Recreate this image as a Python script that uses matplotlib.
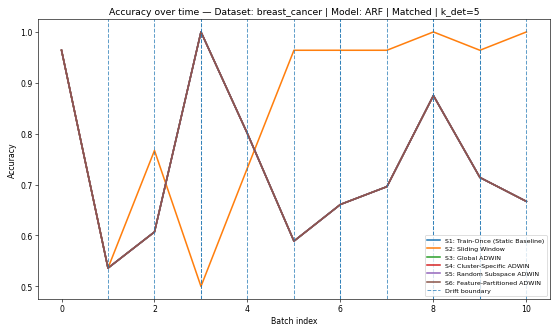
import matplotlib
matplotlib.use("Agg")
import matplotlib.pyplot as plt

batches = list(range(11))

# per-strategy accuracy for each batch
s1_static = [0.964, 0.536, 0.607, 1.0, 0.80, 0.589, 0.661, 0.696, 0.875, 0.714, 0.667]
s2_sliding = [0.964, 0.536, 0.767, 0.50, 0.733, 0.964, 0.964, 0.964, 1.0, 0.964, 1.0]
s3_global = [0.964, 0.536, 0.607, 1.0, 0.80, 0.589, 0.661, 0.696, 0.875, 0.714, 0.667]
s4_cluster = [0.964, 0.536, 0.607, 1.0, 0.80, 0.589, 0.661, 0.696, 0.875, 0.714, 0.667]
s5_subspace = [0.964, 0.536, 0.607, 1.0, 0.80, 0.589, 0.661, 0.696, 0.875, 0.714, 0.667]
s6_feature = [0.964, 0.536, 0.607, 1.0, 0.80, 0.589, 0.661, 0.696, 0.875, 0.714, 0.667]

series = [
    ("S1: Train-Once (Static Baseline)", s1_static),
    ("S2: Sliding Window", s2_sliding),
    ("S3: Global ADWIN", s3_global),
    ("S4: Cluster-Specific ADWIN", s4_cluster),
    ("S5: Random Subspace ADWIN", s5_subspace),
    ("S6: Feature-Partitioned ADWIN", s6_feature),
]

# drift boundaries reported by the detectors (some batches flagged twice)
drift_batches = [1, 2, 3, 4, 5, 6, 7, 8, 9, 10, 3, 6, 8, 9]

fig, ax = plt.subplots(figsize=(10, 6), dpi=55.8)

for name, acc in series:
    ax.plot(batches, acc, linewidth=2, label=name)

for i, b in enumerate(drift_batches):
    ax.axvline(b, color="C0", linestyle="--", linewidth=1.3, alpha=0.7,
               label="Drift boundary" if i == 0 else None)

ax.set_xlabel("Batch index")
ax.set_ylabel("Accuracy")
ax.set_title("Accuracy over time — Dataset: breast_cancer | Model: ARF | Matched | k_det=5")
ax.legend(loc="lower right", fontsize=8)

plt.tight_layout()
plt.savefig("out.png")
